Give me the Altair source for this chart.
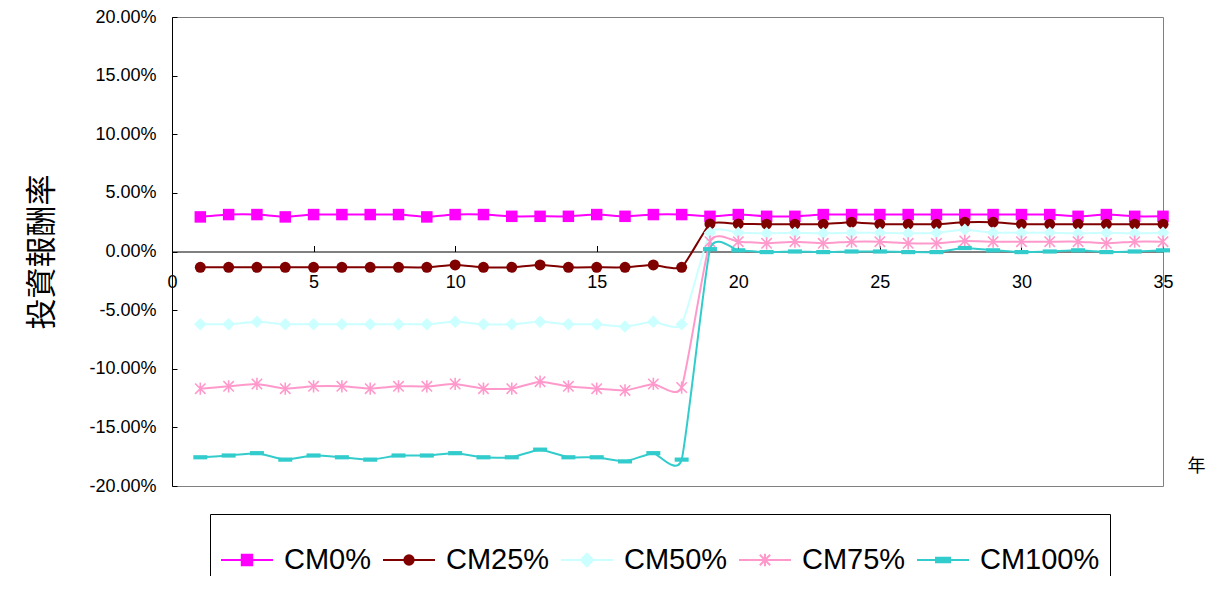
import altair as alt
import pandas as pd

years = list(range(1, 36))
series_names = ["CM0%", "CM25%", "CM50%", "CM75%", "CM100%"]
series_colors = ["#FF00FF", "#800000", "#CCFFFF", "#FF99CC", "#33CCCC"]

# values in percent
cm0 = [2.95, 3.15, 3.15, 2.95, 3.15, 3.15, 3.15, 3.15, 2.95, 3.15,
       3.15, 3.0, 3.0, 3.0, 3.15, 3.0, 3.15, 3.15, 3.0, 3.15,
       3.0, 3.0, 3.15, 3.15, 3.15, 3.15, 3.15, 3.15, 3.15, 3.15,
       3.15, 3.0, 3.15, 3.0, 3.0]
cm25 = [-1.35, -1.35, -1.35, -1.35, -1.35, -1.35, -1.35, -1.35, -1.35, -1.15,
        -1.35, -1.35, -1.15, -1.35, -1.35, -1.35, -1.15, -1.35, 2.35, 2.35,
        2.33, 2.33, 2.33, 2.5, 2.33, 2.33, 2.33, 2.5, 2.5, 2.33,
        2.33, 2.33, 2.33, 2.33, 2.33]
cm50 = [-6.2, -6.2, -6.0, -6.2, -6.2, -6.2, -6.2, -6.2, -6.2, -6.0,
        -6.2, -6.2, -6.0, -6.2, -6.2, -6.4, -6.0, -6.2, 1.6, 1.6,
        1.55, 1.6, 1.55, 1.6, 1.6, 1.55, 1.6, 1.85, 1.6, 1.6,
        1.6, 1.55, 1.6, 1.55, 1.6]
cm75 = [-11.7, -11.5, -11.3, -11.7, -11.5, -11.5, -11.7, -11.5, -11.5, -11.3,
        -11.7, -11.7, -11.1, -11.5, -11.7, -11.85, -11.3, -11.6, 0.84, 0.84,
        0.7, 0.84, 0.7, 0.84, 0.84, 0.7, 0.7, 0.9, 0.84, 0.84,
        0.84, 0.84, 0.7, 0.84, 0.84]
cm100 = [-17.55, -17.4, -17.2, -17.75, -17.4, -17.55, -17.75, -17.4, -17.4, -17.2,
         -17.55, -17.55, -16.9, -17.55, -17.55, -17.9, -17.2, -17.75, 0.2, 0.1,
         -0.05, 0.0, -0.05, 0.0, 0.0, -0.05, -0.05, 0.3, 0.1, -0.05,
         0.0, 0.1, -0.05, 0.0, 0.1]

x_ticks = [0, 5, 10, 15, 20, 25, 30, 35]
y_ticks = [-0.2, -0.15, -0.1, -0.05, 0.0, 0.05, 0.1, 0.15, 0.2]

rows = []
for name, vals in zip(series_names, [cm0, cm25, cm50, cm75, cm100]):
    for yr, v in zip(years, vals):
        rows.append({"year": yr, "value": v / 100.0, "series": name})
df = pd.DataFrame(rows)

W, H = 991, 469
Y0 = H / 2.0  # pixel position of 0% from top

xs = alt.Scale(domain=[0, 35], nice=False, zero=False)
ys = alt.Scale(domain=[-0.2, 0.2], nice=False, zero=False)

FONT = "Liberation Sans"

main_x_axis = alt.Axis(
    orient="bottom", offset=-Y0, values=x_ticks, ticks=False, tickSize=0,
    labelPadding=22, labelFontSize=18, labelFont=FONT, labelColor="black",
    labelFlush=False, labelOverlap=False, domainColor="black", domainWidth=1,
    grid=False, title="年", titleX=1024, titleY=215, titleAngle=0,
    titleAlign="center", titleBaseline="middle", titleFontSize=18,
    titleFont="Noto Sans CJK TC", titleFontWeight="normal", titleColor="black",
)
main_y_axis = alt.Axis(
    orient="left", values=y_ticks, ticks=False, tickSize=0,
    labelExpr="replace(format(datum.value, '.2%'), '\u2212', '-')",
    labelPadding=16, labelFontSize=18, labelFont=FONT, labelColor="black",
    labelFlush=False, labelOverlap=False, domainColor="black", domainWidth=1,
    grid=False, title="投資報酬率", titleX=-130, titleY=Y0, titleAngle=270,
    titleAlign="center", titleBaseline="middle", titleFontSize=31,
    titleFont="Noto Sans CJK TC", titleFontWeight="normal", titleColor="black",
)

marker_specs = {
    "CM0%": dict(shape="square", filled=True, size=132),
    "CM25%": dict(shape="circle", filled=True, size=121),
    "CM50%": dict(shape="diamond", filled=True, size=156),
    "CM75%": dict(shape="M0,-1V1M-0.85,-0.85L0.85,0.85M-0.85,0.85L0.85,-0.85", filled=False, size=150, strokeWidth=1.6),
    "CM100%": dict(shape="M-1,-0.3H1V0.3H-1Z", filled=True, size=196),
}

layers = []
first = True
for name, col in zip(series_names, series_colors):
    base = alt.Chart(df).transform_filter(alt.datum.series == name)
    xa = main_x_axis if first else None
    ya = main_y_axis if first else None
    line = base.mark_line(interpolate="cardinal", tension=0.5, strokeWidth=2, color=col).encode(
        x=alt.X("year:Q", scale=xs, axis=xa),
        y=alt.Y("value:Q", scale=ys, axis=ya),
    )
    first = False
    spec = marker_specs[name]
    pts = base.mark_point(opacity=1, color=col, **spec).encode(
        x=alt.X("year:Q", scale=xs, axis=None),
        y=alt.Y("value:Q", scale=ys, axis=None),
    )
    layers += [line, pts]

legend_paths = [
    "M-1,0H1M-0.2,-0.2H0.2V0.2H-0.2Z",
    "M-1,0H1M0.18,0A0.18,0.18 0 1,1 -0.18,0A0.18,0.18 0 1,1 0.18,0Z",
    "M-1,0H1M-0.24,0L0,-0.24L0.24,0L0,0.24Z",
    "M-1,0H1M0,-0.24V0.24M-0.2,-0.2L0.2,0.2M-0.2,0.2L0.2,-0.2",
    "M-1,0H1M-0.27,-0.09H0.27V0.09H-0.27Z",
]

leg = alt.Legend(
    orient="none", legendX=38, legendY=497, direction="horizontal",
    symbolSize=2704, symbolStrokeWidth=2, symbolOpacity=1,
    labelFontSize=29, labelFont=FONT,
    labelColor="black", labelOffset=10, columnPadding=7, padding=10,
    strokeColor="black", fillColor="white", title=" ", titleFontSize=1,
    titlePadding=8, labelLimit=300,
)

legend_layer = alt.Chart(df).mark_point(filled=True, opacity=0).encode(
    x=alt.X("year:Q", scale=xs, axis=alt.Axis(
        orient="top", offset=-Y0, values=x_ticks, labels=False, domain=False,
        ticks=True, tickSize=6, tickColor="black", grid=False, title=None)),
    y=alt.Y("value:Q", scale=ys, axis=alt.Axis(
        orient="right", offset=-W, values=y_ticks, labels=False, domain=False,
        ticks=True, tickSize=5, tickColor="black", grid=False, title=None)),
    fill=alt.Fill("series:N", scale=alt.Scale(domain=series_names, range=series_colors), legend=leg),
    stroke=alt.Stroke("series:N", scale=alt.Scale(domain=series_names, range=series_colors), legend=leg),
    shape=alt.Shape("series:N", scale=alt.Scale(domain=series_names, range=legend_paths), legend=leg),
)

chart = alt.layer(*layers, legend_layer).resolve_axis(
    x="independent", y="independent"
).properties(
    width=W, height=H,
    padding={"left": 164, "top": 9, "right": 44, "bottom": 90},
    autosize=alt.AutoSizeParams(type="none"),
    background="white",
).configure_view(stroke="#808080", strokeWidth=1)

chart.save("out.html", embed_options={"renderer": "svg", "actions": False})
